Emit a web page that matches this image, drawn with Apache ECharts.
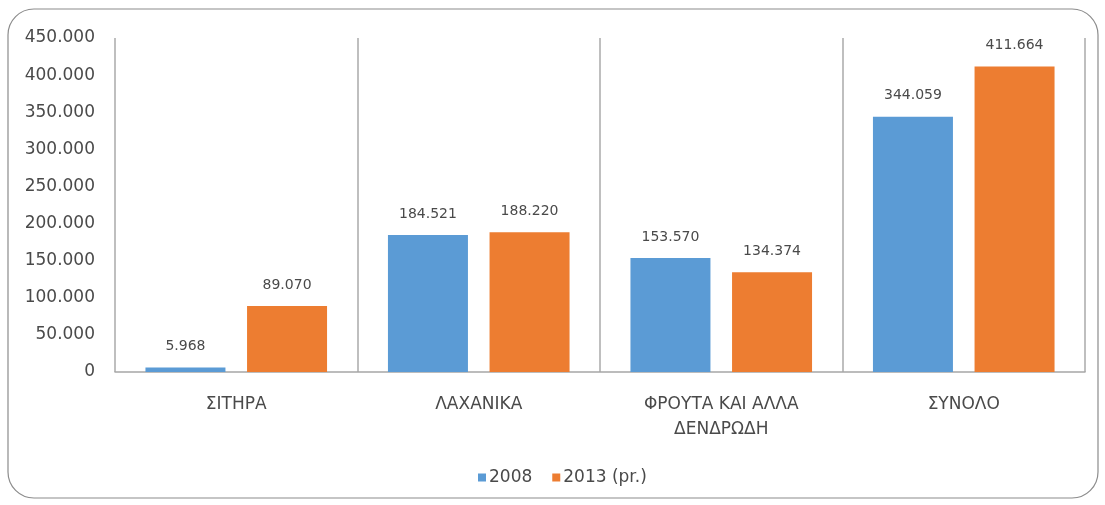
<!DOCTYPE html>
<html><head><meta charset="utf-8">
<script src="https://cdn.jsdelivr.net/npm/echarts@6/dist/echarts.min.js"></script>
<style>html,body{margin:0;padding:0;background:#fff}#c{width:1105px;height:505px}</style>
</head><body><div id="c"></div>
<script>
const categories = ['ΣΙΤΗΡΑ', 'ΛΑΧΑΝΙΚΑ', 'ΦΡΟΥΤΑ ΚΑΙ ΑΛΛΑ\nΔΕΝΔΡΩΔΗ', 'ΣΥΝΟΛΟ'];
const series2008 = [5968, 184521, 153570, 344059];
const series2013 = [89070, 188220, 134374, 411664];
const seriesNames = ['2008', '2013 (pr.)'];
const fmt = v => {
  return String(Math.round(v)).replace(/\B(?=(\d{3})+(?!\d))/g, '.');
};
const chart = echarts.init(document.getElementById('c'));
const font = 'DejaVu Sans, Verdana, sans-serif';
const txt = '#4a4a4a';
const lbl = {show: true, position: 'top', distance: 14, color: txt, fontSize: 14, fontFamily: font, formatter: p => fmt(p.value)};
chart.setOption({
  animation: false,
  graphic: [{type: 'rect', shape: {x: 8, y: 9, width: 1090, height: 489, r: 26}, style: {fill: 'none', stroke: '#8c8c8c', lineWidth: 1.2}, silent: true}],
  grid: {left: 115, right: 20, top: 38, bottom: 133, containLabel: false},
  legend: {bottom: 14, left: 473, itemWidth: 8, itemHeight: 8, itemGap: 20, icon: 'rect',
    textStyle: {color: txt, fontSize: 17, fontFamily: font, padding: [0, 0, 0, -2]}, data: seriesNames},
  xAxis: {type: 'category', data: categories,
    axisLine: {show: true, lineStyle: {color: '#a6a6a6', width: 1.5}},
    axisTick: {show: false},
    splitLine: {show: true, lineStyle: {color: '#bfbfbf', width: 2}},
    axisLabel: {color: txt, fontSize: 17, fontFamily: font, margin: 20, lineHeight: 25, interval: 0}},
  yAxis: {type: 'value', min: 0, max: 450000, interval: 50000,
    axisLine: {show: false}, axisTick: {show: false}, splitLine: {show: false},
    axisLabel: {color: txt, fontSize: 17, fontFamily: font, margin: 20, formatter: v => fmt(v)}},
  series: [
    {name: seriesNames[0], type: 'bar', data: series2008, barWidth: 80, barGap: '27%', itemStyle: {color: '#5B9BD5'}, label: lbl},
    {name: seriesNames[1], type: 'bar', data: series2013, barWidth: 80, barGap: '27%', itemStyle: {color: '#ED7D31'}, label: lbl}
  ]
});
</script></body></html>
